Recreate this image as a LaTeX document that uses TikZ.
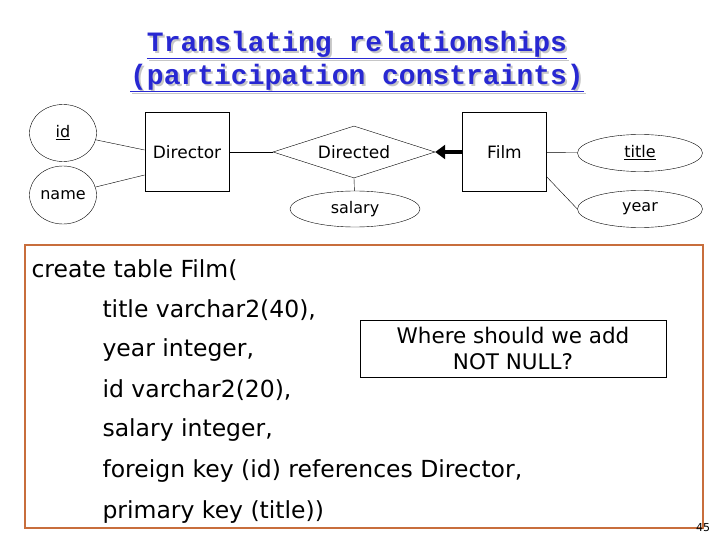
\documentclass[tikz,border=0pt]{standalone}
\usepackage{fontspec}
\setmainfont{DejaVu Sans}
\newfontfamily\erfont{DejaVu Sans}
\newfontfamily\titlefont{Liberation Mono}
\usetikzlibrary{shapes.geometric,arrows.meta}
\definecolor{ttl}{RGB}{40,40,210}
\definecolor{brd}{RGB}{200,110,60}
\begin{document}
\begin{tikzpicture}[x=1pt,y=-1pt,
  ent/.style={draw,thick,minimum width=84pt,minimum height=79pt,font=\erfont\fontsize{17}{19}\selectfont},
  att/.style={draw,ellipse,inner sep=0pt,font=\erfont\fontsize{16}{18}\selectfont},
  rel/.style={draw,diamond,aspect=3,inner sep=0pt,minimum width=162pt,minimum height=52pt,font=\erfont\fontsize{17}{19}\selectfont},
  code/.style={anchor=west,font=\fontsize{23.5}{26}\selectfont},
  ttltext/.style={font=\titlefont\bfseries\fontsize{28}{30}\selectfont}]
\useasboundingbox (0,0) rectangle (720,540);
\fill[white] (0,0) rectangle (720,540);
% title
\node[ttltext,text=gray!45] (t1s) at (359,47) {\underline{Translating relationships}};
\node[ttltext,text=ttl] (t1) at (357,45) {\underline{Translating relationships}};
\node[ttltext,text=gray!45] (t2s) at (359,80) {\underline{(participation constraints)}};
\node[ttltext,text=ttl] (t2) at (357,78) {\underline{(participation constraints)}};
% ER
\node[ent] (dir) at (187,152) {Director};
\node[ent] (film) at (504.5,152) {Film};
\node[rel] (dd) at (354,152) {Directed};
\node[att,minimum width=67pt,minimum height=57pt] (id) at (63,133) {\underline{id}};
\node[att,minimum width=67pt,minimum height=58pt] (name) at (63,195) {name};
\node[att,minimum width=130pt,minimum height=36pt] (sal) at (355,209) {salary};
\node[att,minimum width=125pt,minimum height=37pt] (title) at (640,153) {\underline{title}};
\node[att,minimum width=125pt,minimum height=37pt] (year) at (640,209) {year};
\draw (id) -- (dir.west |- 0,150);
\draw (name) -- (dir.west |- 0,175);
\draw (dir) -- (dd);
\draw (dd.south) -- (sal);
\draw (film) -- (title);
\draw (film.east |- 0,177) -- (year.west);
\draw[line width=3.5pt,-{Triangle[length=10pt,width=14pt]}] (film.west) -- (dd.east);
% code box
\node[draw=brd,line width=1.2pt,minimum width=678pt,minimum height=283pt] (box) at (364,386.5) {};
\node[code] (c1) at (28,270) {create table Film(};
\node[code] (c2) at (99,310) {title varchar2(40),};
\node[code] (c3) at (99,350) {year integer,};
\node[code] (c4) at (99,390) {id varchar2(20),};
\node[code] (c5) at (99,430) {salary integer,};
\node[code] (c6) at (99,471) {foreign key (id) references Director,};
\node[code] (c7) at (99,512) {primary key (title))};
\node[draw,fill=white,minimum width=306pt,minimum height=57pt,align=center,font=\fontsize{21.5}{26}\selectfont] (q) at (513,348.5) {Where should we add\\NOT NULL?};
\node[font=\fontsize{11}{13}\selectfont] (pg) at (703,528) {45};
\end{tikzpicture}
\end{document}
